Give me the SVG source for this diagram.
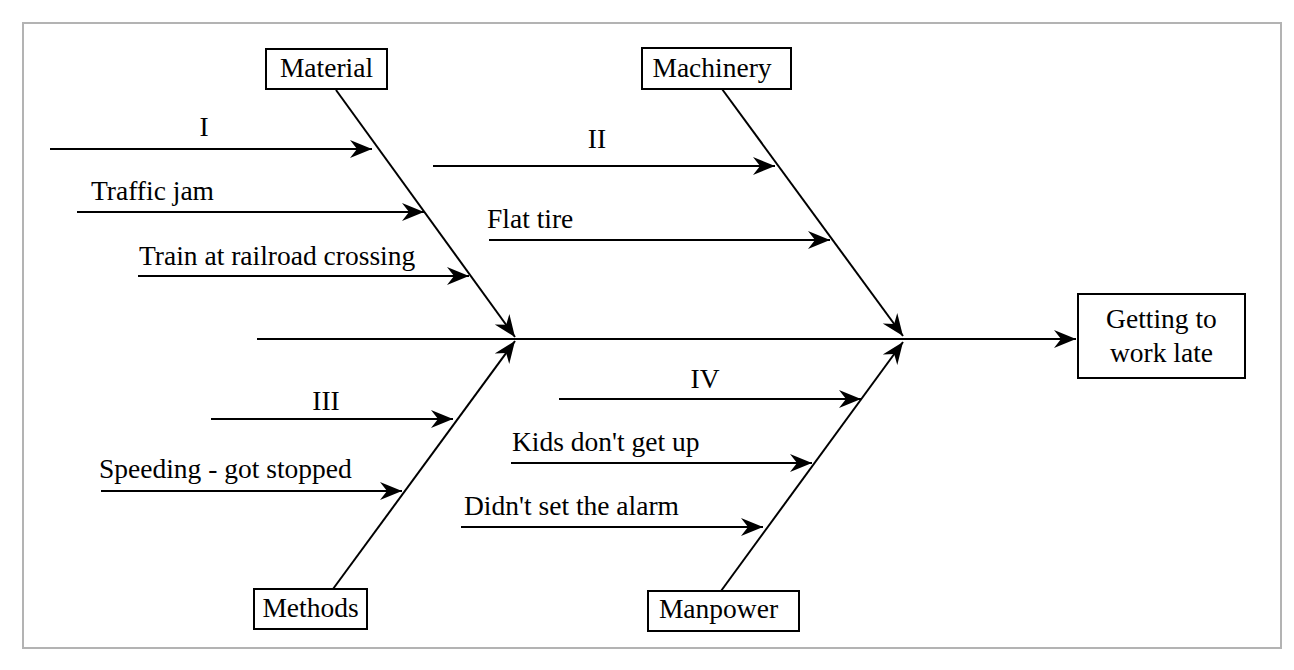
<svg xmlns="http://www.w3.org/2000/svg" width="1294" height="670" viewBox="0 0 1294 670">
<style>
.t{font-family:"Liberation Serif","Times New Roman",serif;font-size:27.5px;fill:#000}
.c{text-anchor:middle}
.box{fill:#fff;stroke:#000;stroke-width:2}
.ln{stroke:#000;stroke-width:2;fill:none;marker-end:url(#ah)}
.bone{stroke:#000;stroke-width:2;fill:none;marker-end:url(#ah)}
</style>
<defs>
<marker id="ah" markerUnits="userSpaceOnUse" viewBox="-24 -10 26 20" refX="0" refY="0" markerWidth="26" markerHeight="20" orient="auto">
<path d="M0,0 L-22,-9 L-15,0 L-22,9 Z" fill="#000"/>
</marker>
</defs>
<rect x="0" y="0" width="1294" height="670" fill="#fff"/>
<rect x="23" y="23" width="1258" height="625" fill="#fff" stroke="#b3b3b3" stroke-width="2"/>
<g id="connectors">
<line class="ln" x1="257" y1="339" x2="1076" y2="339"/>
<line class="bone" x1="336" y1="90" x2="515" y2="337"/>
<line class="bone" x1="333" y1="589" x2="515" y2="341"/>
<line class="bone" x1="722" y1="89" x2="903" y2="336"/>
<line class="bone" x1="721" y1="591" x2="903" y2="342"/>
<line class="ln" x1="50" y1="149" x2="372" y2="149"/>
<line class="ln" x1="77" y1="212" x2="424" y2="212"/>
<line class="ln" x1="138" y1="276" x2="469" y2="276"/>
<line class="ln" x1="433" y1="166" x2="775" y2="166"/>
<line class="ln" x1="489" y1="240" x2="830" y2="240"/>
<line class="ln" x1="211" y1="419" x2="453" y2="419"/>
<line class="ln" x1="101" y1="491" x2="402" y2="491"/>
<line class="ln" x1="559" y1="399" x2="861" y2="399"/>
<line class="ln" x1="511" y1="463" x2="812" y2="463"/>
<line class="ln" x1="461" y1="527" x2="763" y2="527"/>
</g>
<g id="labels">
<text class="t c" x="204" y="136">I</text>
<text class="t" x="91" y="200">Traffic jam</text>
<text class="t" x="139" y="265">Train at railroad crossing</text>
<text class="t c" x="597" y="148">II</text>
<text class="t" x="487" y="228">Flat tire</text>
<text class="t c" x="326" y="410">III</text>
<text class="t" x="99" y="478">Speeding - got stopped</text>
<text class="t c" x="705" y="388">IV</text>
<text class="t" x="512" y="451">Kids don't get up</text>
<text class="t" x="464" y="515">Didn't set the alarm</text>
</g>
<g id="material">
<rect class="box" x="266" y="49" width="121" height="40"/>
<text class="t c" x="326.5" y="77">Material</text>
</g>
<g id="machinery">
<rect class="box" x="642" y="48" width="149" height="41"/>
<text class="t c" x="712" y="77">Machinery</text>
</g>
<g id="methods">
<rect class="box" x="254" y="589" width="113" height="40"/>
<text class="t c" x="310.5" y="617">Methods</text>
</g>
<g id="manpower">
<rect class="box" x="648" y="591" width="151" height="40"/>
<text class="t c" x="718.5" y="618">Manpower</text>
</g>
<g id="effect">
<rect class="box" x="1078" y="294" width="167" height="84"/>
<text class="t c" x="1161.5" y="328">Getting to</text>
<text class="t c" x="1161.5" y="362">work late</text>
</g>
</svg>
